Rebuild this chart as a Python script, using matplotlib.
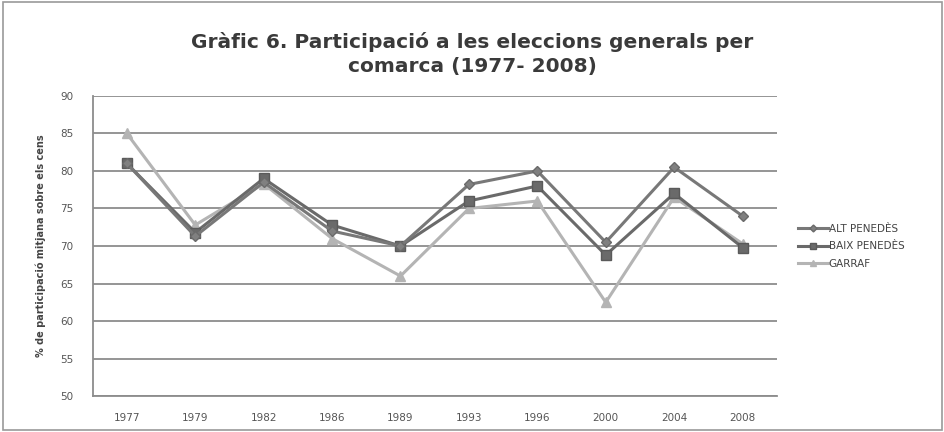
import matplotlib
matplotlib.use('Agg')
import matplotlib.pyplot as plt
from matplotlib.patches import Rectangle

# data
years = ['1977', '1979', '1982', '1986', '1989', '1993', '1996', '2000', '2004', '2008']
alt_penedes = [81.0, 71.3, 78.5, 72.0, 70.0, 78.2, 80.0, 70.5, 80.5, 74.0]
baix_penedes = [81.0, 71.8, 79.0, 72.8, 70.0, 76.0, 78.0, 68.8, 77.0, 69.8]
garraf = [85.0, 72.8, 78.3, 71.0, 66.0, 75.0, 76.0, 62.5, 76.5, 70.3]
yticks = [50, 55, 60, 65, 70, 75, 80, 85, 90]

fig = plt.figure(figsize=(9.45, 4.32), dpi=100)
fig.patch.set_facecolor('white')
fig.patches.append(Rectangle((0.003, 0.005), 0.994, 0.99, transform=fig.transFigure,
                             fill=False, edgecolor='#9a9a9a', linewidth=1.2))

ax = fig.add_axes([0.098, 0.083, 0.724, 0.695])
x = list(range(len(years)))

ax.plot(x, garraf, color='#b4b4b4', linewidth=2.2, marker='^', markersize=7,
        markerfacecolor='#b4b4b4', markeredgecolor='#b4b4b4', label='GARRAF', zorder=3)
ax.plot(x, baix_penedes, color='#6a6a6a', linewidth=2.2, marker='s', markersize=7,
        markerfacecolor='#6a6a6a', markeredgecolor='#5a5a5a', label='BAIX PENEDÈS', zorder=4)
ax.plot(x, alt_penedes, color='#787878', linewidth=2.2, marker='D', markersize=5,
        markerfacecolor='#808080', markeredgecolor='#6a6a6a', label='ALT PENEDÈS', zorder=5)

ax.set_xlim(-0.5, len(years) - 0.5)
ax.set_ylim(50, 90)
ax.set_yticks(yticks)
ax.set_yticklabels([str(v) for v in yticks], fontsize=7.5, color='#555555')
ax.set_xticks(x)
ax.set_xticklabels(years, fontsize=7.5, color='#555555')
ax.tick_params(axis='x', length=0, pad=12)
ax.tick_params(axis='y', length=0, pad=14)
ax.grid(axis='y', color='#8c8c8c', linewidth=1.3)
ax.set_axisbelow(True)
for side in ['top', 'right']:
    ax.spines[side].set_visible(False)
ax.spines['left'].set_color('#8c8c8c')
ax.spines['left'].set_linewidth(1.3)
ax.spines['bottom'].set_color('#8c8c8c')
ax.spines['bottom'].set_linewidth(1.3)

ax.set_ylabel('% de participació mitjana sobre els cens', fontsize=7, fontweight='bold',
              color='#444444', labelpad=10)

fig.text(0.5, 0.875, 'Gràfic 6. Participació a les eleccions generals per\ncomarca (1977- 2008)',
         ha='center', va='center', fontsize=14.5, fontweight='bold', color='#3a3a3a',
         linespacing=1.3)

handles, labels = ax.get_legend_handles_labels()
leg = fig.legend(handles[::-1], labels[::-1], loc='center left', bbox_to_anchor=(0.835, 0.43),
                 frameon=False, fontsize=7.5, handlelength=2.8, handletextpad=0.1,
                 labelspacing=0.7, markerscale=0.7)
for t in leg.get_texts():
    t.set_color('#444444')

plt.savefig('out.png', dpi=100)
